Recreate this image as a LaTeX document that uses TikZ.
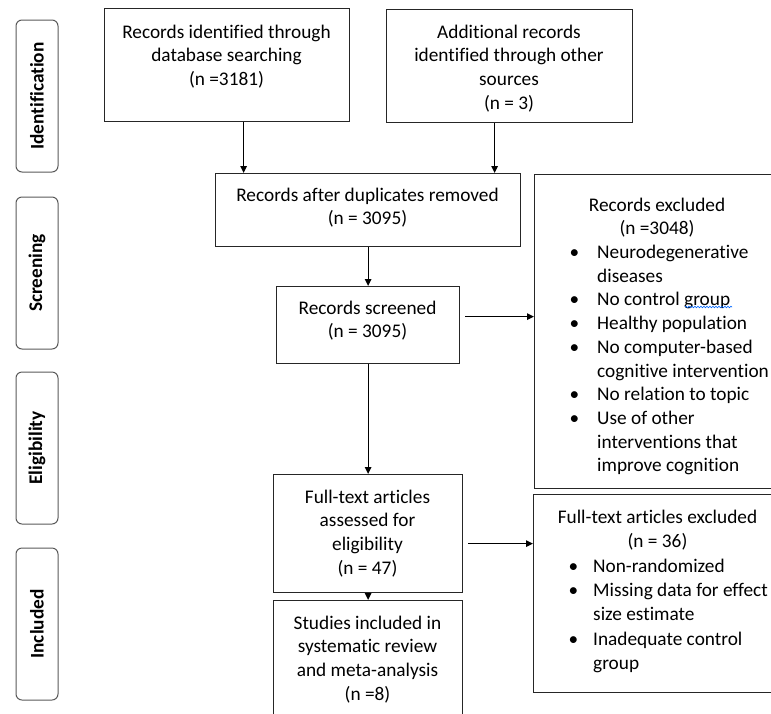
\documentclass[tikz,border=0pt]{standalone}
\usepackage{fontspec}
\setmainfont[Ligatures=NoCommon]{Carlito}
\usetikzlibrary{arrows.meta,decorations.pathmorphing}
\begin{document}
\begin{tikzpicture}[x=1pt,y=-1pt,
  box/.style={draw=black!85, line width=1.2pt, rectangle, inner sep=0pt, anchor=north west},
  side/.style={draw=black!65, line width=1pt, rounded corners=6pt, inner sep=0pt, minimum width=42pt, minimum height=152pt},
  txt/.style={font=\fontsize{19.3}{23.7}\selectfont, align=center, inner sep=0pt, anchor=north},
  lst/.style={font=\fontsize{19.3}{23.7}\selectfont, inner sep=0pt, anchor=north west},
  lbl/.style={font=\fontsize{19.3}{23.7}\selectfont\bfseries, rotate=90, inner sep=0pt},
  arr/.style={line width=1.1pt, -{Triangle[length=7pt,width=6.5pt]}},
]
\useasboundingbox (0,0) rectangle (771,713);
\clip (0,0) rectangle (771,713);

% side labels
\node[side] (s1) at (37,96) {};
\node[lbl] (l1) at (s1.center) {Identification};
\node[side] (s2) at (37,273) {};
\node[lbl] (l2) at (s2.center) {Screening};
\node[side] (s3) at (37,448) {};
\node[lbl] (l3) at (s3.center) {Eligibility};
\node[side] (s4) at (37,624) {};
\node[lbl] (l4) at (s4.center) {Included};

% boxes
\node[box, minimum width=245pt, minimum height=113pt] (b1) at (104,8) {};
\node[box, minimum width=246pt, minimum height=113pt] (b2) at (386,9) {};
\node[box, minimum width=305pt, minimum height=73pt] (b3) at (215,173) {};
\node[box, minimum width=183pt, minimum height=77pt] (b4) at (276,286) {};
\node[box, minimum width=250pt, minimum height=314pt] (ex1) at (534,174) {};
\node[box, minimum width=189pt, minimum height=118pt] (b5) at (273,474) {};
\node[box, minimum width=189pt, minimum height=125pt] (b6) at (273,600) {};
\node[box, minimum width=250pt, minimum height=198pt] (ex2) at (533,494) {};

% texts
\node[txt] (t1) at (226.5,21.4) {\strut Records identified through\\database searching\\(n =3181)};
\node[txt] (t2) at (509,21.4) {\strut Additional records\\identified through other\\sources\\(n = 3)};
\node[txt] (t3) at (367.5,184.4) {\strut Records after duplicates removed\\(n = 3095)};
\node[txt] (t4) at (367.5,297.4) {\strut Records screened\\(n = 3095)};
\node[txt] (t5) at (367.5,486.4) {\strut Full-text articles\\assessed for\\eligibility\\(n = 47)};
\node[txt] (t6) at (367.5,612.4) {\strut Studies included in\\systematic review\\and meta-analysis\\(n =8)};

\node[txt] (h1) at (657,194.4) {\strut Records excluded\\(n =3048)};
\node[lst] (e1) at (569.5,241.8) {\begin{tabular}{@{}p{27.5pt}@{}l@{}}
•&Neurodegenerative\\
 &diseases\\
•&No control group\\
•&Healthy population\\
•&No computer-based\\
 &cognitive intervention\\
•&No relation to topic\\
•&Use of other\\
 &interventions that\\
 &improve cognition
\end{tabular}};

\node[txt, font=\fontsize{19.3}{24.3}\selectfont] (h2) at (657.5,506) {\strut Full-text articles excluded\\(n = 36)};
\node[lst, font=\fontsize{19.3}{24.3}\selectfont] (e2) at (568.5,555) {\begin{tabular}{@{}p{24.5pt}@{}l@{}}
•&Non-randomized\\
•&Missing data for effect\\
 &size estimate\\
•&Inadequate control\\
 &group
\end{tabular}};

% spell-check squiggle
\coordinate (sq1) at (685,307);
\coordinate (sq2) at (732,307);
\draw[blue!60!cyan, line width=0.6pt, decorate, decoration={snake, amplitude=0.8pt, segment length=3pt}] (sq1) -- (sq2);

% connectors
\draw[arr] ([xshift=16.5pt]b1.south) -- ([xshift=16.5pt]b1.south |- b3.north);
\draw[arr] ([xshift=-15pt]b2.south) -- ([xshift=-15pt]b2.south |- b3.north);
\draw[arr] (b3.south) -- (b4.north);
\draw[arr, shorten <=5pt] ([yshift=8.5pt]b4.east) -- ([yshift=8.5pt]b4.east -| ex1.west);
\draw[arr] (b4.south) -- (b5.north);
\draw[arr] (b5.south) -- (b6.north);
\draw[arr, shorten <=5pt] ([yshift=-10pt]b5.east) -- ([yshift=-10pt]b5.east -| ex2.west);
\end{tikzpicture}
\end{document}
